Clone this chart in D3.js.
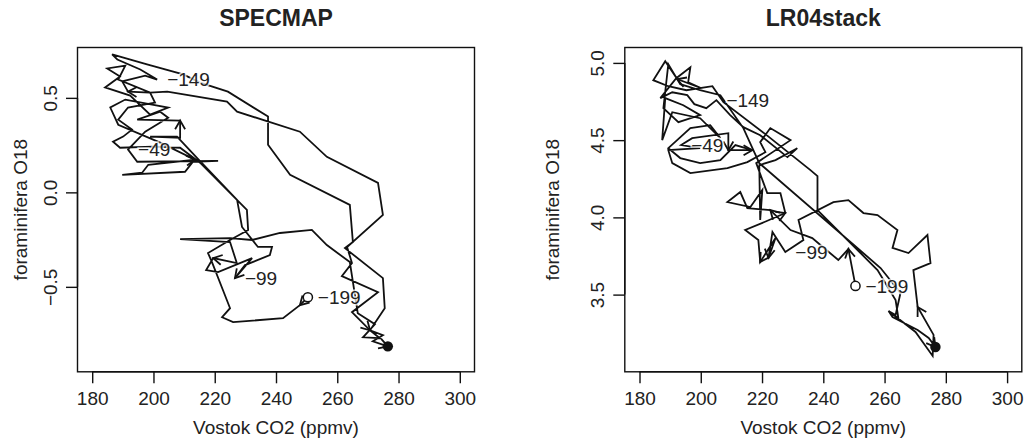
<!DOCTYPE html>
<html>
<head>
<meta charset="utf-8">
<script src="https://cdn.jsdelivr.net/npm/d3@7"></script>
<style>
  body { margin: 0; background: #fff; }
  svg { display: block; }
  text { font-family: "Liberation Sans", Arial, Helvetica, sans-serif; fill: #222; }
</style>
</head>
<body>
<svg id="chart" width="1024" height="443"></svg>
<script>
"use strict"

// shared x axis (Vostok CO2, ppmv)
const xlim = [180, 300]
const xTicks = [180, 200, 220, 240, 260, 280, 300]
const labelTimes = [-199, -149, -99, -49]

// SPECMAP panel
const specmapCO2 = [250.4, 247.8, 242.3, 226.0, 222.4, 225.0, 222.7, 219.1, 217.8, 225.0,
  230.9, 230.5, 215.2, 208.7, 199.9, 189.1, 186.8, 190.1, 193.0, 188.5,
  191.7, 200.5, 198.9, 191.7, 189.8, 197.3, 201.2, 195.7, 188.2, 186.5,
  197.9, 209.7, 215.2, 224.3, 237.4, 237.4, 244.6, 264.1, 265.1, 262.5,
  274.9, 275.5, 270.7, 273.9, 268.4, 272.3, 266.7, 264.1, 256.6, 251.7,
  241.3, 232.2, 225.0, 208.7, 225.0, 227.2, 219.5, 217.2, 221.1, 232.2,
  226.6, 229.9, 238.0, 238.7, 234.1, 228.9, 227.3, 214.2, 207.7, 198.9,
  208.7, 208.7, 194.7, 202.2, 204.8, 197.3, 191.7, 194.7, 221.1, 212.9,
  210.3, 189.8, 196.3, 198.3, 213.6, 202.2, 188.5, 185.9, 190.8, 204.8,
  198.9, 192.4, 184.2, 189.1, 184.9, 190.8, 188.5, 198.9, 204.5, 224.0,
  227.3, 247.8, 256.6, 273.3, 274.9, 263.2, 264.8, 261.5, 273.3, 264.8,
  270.7, 274.9, 271.6, 276.5]
const specmapO18 = [-0.555, -0.597, -0.666, -0.687, -0.661, -0.613, -0.518, -0.369, -0.321, -0.252,
  -0.199, -0.093, 0.157, 0.236, 0.242, 0.236, 0.268, 0.295, 0.332, 0.385,
  0.449, 0.475, 0.528, 0.533, 0.587, 0.618, 0.597, 0.650, 0.703, 0.730,
  0.677, 0.624, 0.581, 0.533, 0.401, 0.252, 0.093, -0.066, -0.263, -0.295,
  -0.454, -0.613, -0.730, -0.772, -0.767, -0.698, -0.640, -0.369, -0.279, -0.199,
  -0.215, -0.252, -0.242, -0.247, -0.263, -0.374, -0.348, -0.411, -0.422, -0.348,
  -0.454, -0.385, -0.332, -0.289, -0.289, -0.183, -0.040, 0.183, 0.295, 0.295,
  0.289, 0.380, 0.385, 0.427, 0.395, 0.321, 0.226, 0.162, 0.167, 0.162,
  0.109, 0.093, 0.104, 0.146, 0.173, 0.263, 0.358, 0.449, 0.491, 0.449,
  0.411, 0.512, 0.555, 0.613, 0.656, 0.671, 0.597, 0.528, 0.533, 0.480,
  0.427, 0.321, 0.188, 0.050, -0.119, -0.289, -0.374, -0.443, -0.528, -0.634,
  -0.730, -0.756, -0.788, -0.815]
const specmapYlim = [-0.886, 0.703]
const specmapYTicks = [-0.5, 0.0, 0.5]
const specmapLabelAt = [0, 26, 60, 76]
const specmapArrowAt = [1, 23, 56, 60, 71, 84, 110, 113]

// LR04 stack panel
const lr04CO2 = [250.5, 248.2, 244.9, 241.0, 236.4, 229.3, 222.7, 215.2, 212.9, 208.7,
  216.2, 220.1, 219.4, 219.1, 224.4, 231.5, 228.3, 219.4, 213.9, 209.6,
  205.1, 201.8, 197.9, 195.6, 190.7, 186.8, 192.0, 196.6, 195.9, 200.2,
  192.3, 188.4, 184.5, 189.4, 195.3, 203.8, 207.4, 221.1, 235.8, 238.1,
  238.1, 257.7, 263.6, 264.5, 261.3, 270.1, 275.7, 276.0, 270.8, 269.4,
  275.0, 274.0, 267.8, 262.6, 264.2, 257.7, 253.1, 248.2, 243.3, 231.9,
  233.5, 227.6, 223.4, 222.1, 224.4, 219.4, 218.8, 214.5, 220.8, 227.6,
  226.0, 221.7, 218.1, 229.3, 222.7, 219.4, 221.1, 215.2, 208.7, 196.6,
  190.7, 189.4, 199.8, 193.6, 197.2, 209.0, 209.0, 216.8, 211.3, 206.4,
  199.8, 193.3, 189.4, 196.6, 203.1, 206.4, 199.8, 190.7, 187.4, 188.4,
  194.3, 199.8, 192.7, 187.8, 189.4, 193.3, 199.8, 206.4, 213.9, 219.1,
  258.7, 265.2, 263.6, 261.3, 262.6, 270.8, 274.4, 276.6]
const lr04O18 = [3.556, 3.795, 3.724, 3.789, 3.866, 3.918, 4.047, 4.060, 4.164, 4.099,
  4.067, 4.177, 3.983, 4.338, 4.371, 4.448, 4.390, 4.532, 4.584, 4.662,
  4.759, 4.707, 4.733, 4.791, 4.810, 4.772, 4.901, 4.972, 4.875, 4.836,
  4.895, 5.011, 4.888, 4.849, 4.823, 4.849, 4.746, 4.539, 4.306, 4.267,
  4.047, 3.659, 3.465, 3.349, 3.394, 3.258, 3.103, 3.239, 3.420, 3.659,
  3.704, 3.886, 3.769, 3.802, 3.918, 4.015, 4.028, 4.112, 4.099, 3.983,
  3.853, 3.776, 3.905, 3.737, 3.866, 3.711, 3.853, 3.918, 3.970, 4.028,
  4.157, 4.157, 4.351, 4.500, 4.578, 4.487, 4.422, 4.358, 4.319, 4.287,
  4.351, 4.435, 4.448, 4.468, 4.513, 4.545, 4.435, 4.435, 4.468, 4.371,
  4.351, 4.384, 4.448, 4.578, 4.597, 4.513, 4.642, 4.681, 4.500, 4.772,
  4.726, 4.662, 4.616, 4.707, 4.992, 4.862, 4.823, 4.791, 4.578, 4.351,
  3.672, 3.511, 3.368, 3.394, 3.355, 3.271, 3.219, 3.161]
const lr04Ylim = [3.078, 5.022]
const lr04YTicks = [3.5, 4.0, 4.5, 5.0]
const lr04LabelAt = [0, 20, 61, 83]
const lr04ArrowAt = [1, 6, 30, 48, 63, 65, 69, 86, 87, 117]

const svg = d3.select("#chart")
const fmt = v => d3.format(".1f")(v).replace("-", "\u2212")

function pad(lim) {
  // R style 4% extension of the axis range
  const d = (lim[1] - lim[0]) * 0.04
  return [lim[0] - d, lim[1] + d]
}

function panel(p) {
  const box = { left: p.left, right: p.left + 397, top: 47.5, bottom: 371.8 }

  const x = d3.scaleLinear().domain(pad(xlim)).range([box.left, box.right])
  const y = d3.scaleLinear().domain(pad(p.ylim)).range([box.bottom, box.top])

  const g = svg.append("g")

  const pts = p.co2.map((c, i) => [x(c), y(p.o18[i])])

  g.append("path")
    .attr("d", d3.line()(pts))
    .attr("fill", "none")
    .attr("stroke", "#111")
    .attr("stroke-width", 1.8)
    .attr("stroke-linejoin", "miter")

  // open arrow heads at the end of chosen segments
  const len = 10, ang = Math.PI / 6
  p.arrows.forEach(k => {
    const [x0, y0] = pts[k - 1], [x1, y1] = pts[k]
    const a = Math.atan2(y1 - y0, x1 - x0)
    const b1 = [x1 - len * Math.cos(a - ang), y1 - len * Math.sin(a - ang)]
    const b2 = [x1 - len * Math.cos(a + ang), y1 - len * Math.sin(a + ang)]
    g.append("path")
      .attr("d", d3.line()([b1, [x1, y1], b2]))
      .attr("fill", "none")
      .attr("stroke", "#111")
      .attr("stroke-width", 1.8)
  })

  // start (open) and end (filled) markers
  g.append("circle")
    .attr("cx", pts[0][0]).attr("cy", pts[0][1]).attr("r", 4.6)
    .attr("fill", "#fff").attr("stroke", "#111").attr("stroke-width", 1.5)
  g.append("circle")
    .attr("cx", pts[pts.length - 1][0]).attr("cy", pts[pts.length - 1][1]).attr("r", 5.2)
    .attr("fill", "#111")

  // time labels
  g.selectAll("text.time")
    .data(p.labelAt)
    .enter().append("text")
      .attr("class", "time")
      .attr("x", k => pts[k][0] + 10)
      .attr("y", k => pts[k][1])
      .attr("dy", "0.36em")
      .attr("font-size", 19)
      .attr("fill", "#333")
      .attr("stroke", "#fff")
      .attr("stroke-opacity", 0.75)
      .attr("stroke-width", 3.5)
      .attr("paint-order", "stroke")
      .text((k, i) => String(labelTimes[i]).replace("-", "\u2212"))

  // plot box
  g.append("rect")
    .attr("x", box.left).attr("y", box.top)
    .attr("width", box.right - box.left).attr("height", box.bottom - box.top)
    .attr("fill", "none").attr("stroke", "#111").attr("stroke-width", 1.4)

  // x axis
  const xa = g.append("g").attr("transform", `translate(0,${box.bottom})`)
    .call(d3.axisBottom(x).tickValues(xTicks).tickSize(11.5).tickPadding(8).tickFormat(d3.format("d")))
  xa.select(".domain").attr("d", `M${x(xTicks[0])},0H${x(xTicks[xTicks.length - 1])}`)
    .attr("stroke", "#111").attr("stroke-width", 1.4)
  xa.selectAll(".tick line").attr("stroke", "#111").attr("stroke-width", 1.4)
  xa.selectAll(".tick text").attr("font-size", 19).attr("fill", "#222")
    .attr("font-family", "Liberation Sans, Arial, sans-serif")

  // y axis
  const ya = g.append("g").attr("transform", `translate(${box.left},0)`)
    .call(d3.axisLeft(y).tickValues(p.yTicks).tickSize(11.5).tickFormat(fmt))
  ya.select(".domain").attr("d", `M0,${y(p.yTicks[0])}V${y(p.yTicks[p.yTicks.length - 1])}`)
    .attr("stroke", "#111").attr("stroke-width", 1.4)
  ya.selectAll(".tick line").attr("stroke", "#111").attr("stroke-width", 1.4)
  ya.selectAll(".tick text")
    .attr("x", null).attr("dy", null)
    .attr("text-anchor", "middle")
    .attr("transform", "translate(-21,0) rotate(-90)")
    .attr("font-size", 19).attr("fill", "#222")
    .attr("font-family", "Liberation Sans, Arial, sans-serif")

  // titles and axis labels
  const cx = (box.left + box.right) / 2
  g.append("text")
    .attr("x", cx).attr("y", 26)
    .attr("text-anchor", "middle")
    .attr("font-size", 23).attr("font-weight", "bold").attr("fill", "#111")
    .text(p.title)
  g.append("text")
    .attr("x", cx).attr("y", 434)
    .attr("text-anchor", "middle")
    .attr("font-size", 19)
    .text("Vostok CO2 (ppmv)")
  g.append("text")
    .attr("transform", `translate(${box.left - p.ylabOffset},${(box.top + box.bottom) / 2}) rotate(-90)`)
    .attr("text-anchor", "middle")
    .attr("font-size", 19)
    .text("foraminifera O18")
}

panel({
  title: "SPECMAP", left: 77.5, ylabOffset: 51,
  co2: specmapCO2, o18: specmapO18, ylim: specmapYlim, yTicks: specmapYTicks,
  labelAt: specmapLabelAt, arrows: specmapArrowAt
})

panel({
  title: "LR04stack", left: 624.8, ylabOffset: 66,
  co2: lr04CO2, o18: lr04O18, ylim: lr04Ylim, yTicks: lr04YTicks,
  labelAt: lr04LabelAt, arrows: lr04ArrowAt
})
</script>
</body>
</html>
